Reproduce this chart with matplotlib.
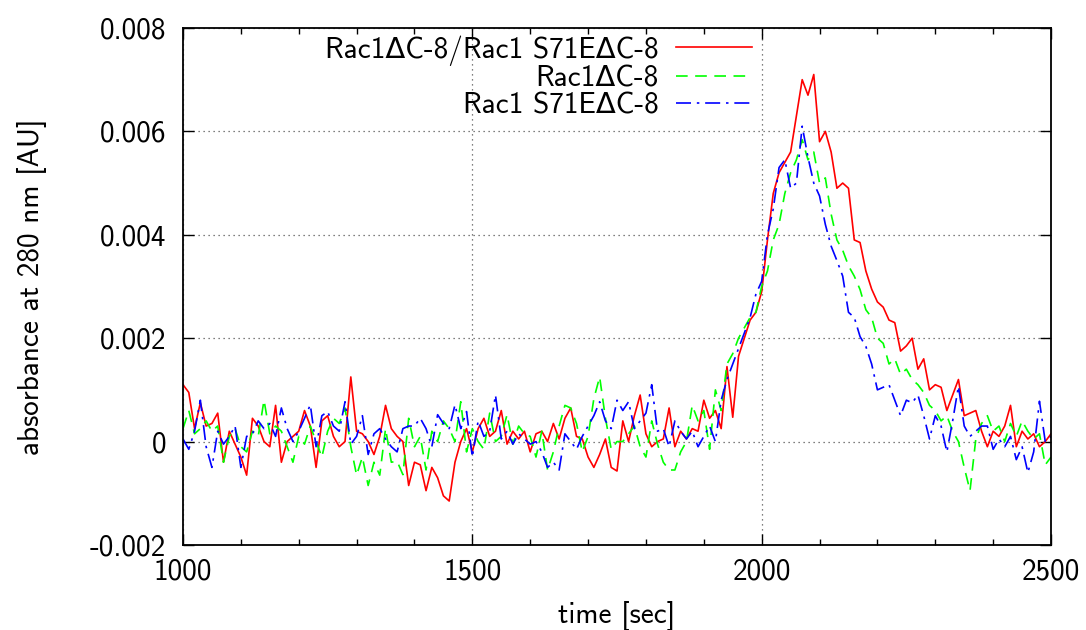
import numpy as np
import matplotlib
matplotlib.use('Agg')
import matplotlib.pyplot as plt
from matplotlib.ticker import MultipleLocator, FormatStrFormatter

plt.rcParams['font.family'] = ['cmss10', 'DejaVu Sans']
plt.rcParams['axes.unicode_minus'] = False
plt.rcParams['mathtext.fontset'] = 'cm'

# time axis [sec], one reading every 10 sec
time = np.arange(1000, 2501, 10)

# absorbance at 280 nm, in units of 0.001 AU
red_mau = [1.1, 0.95, 0.25, 0.75, 0.3, 0.35, 0.55, -0.4, 0.2, -0.05,
           -0.3, -0.65, 0.45, 0.3, 0.0, -0.1, 0.7, -0.4, 0.0, 0.1,
           0.2, 0.6, 0.3, -0.5, 0.4, 0.5, 0.1, -0.1, 0.0, 1.25,
           0.2, 0.15, 0.0, -0.25, 0.1, 0.7, 0.25, 0.1, 0.0, -0.85,
           -0.4, -0.45, -0.95, -0.5, -0.7, -1.05, -1.15, -0.4, 0.0, 0.25,
           -0.2, 0.25, 0.45, 0.1, 0.2, 0.6, -0.05, 0.2, 0.05, 0.2,
           -0.2, 0.15, 0.2, 0.0, 0.35, 0.05, 0.45, 0.65, 0.1, 0.05,
           -0.3, -0.5, -0.25, 0.05, -0.5, -0.57, 0.4, 0.0, 0.5, 0.9,
           0.15, -0.1, 0.0, 0.05, 0.65, -0.1, 0.2, 0.05, 0.25, 0.2,
           0.8, 0.45, 0.6, 0.25, 1.45, 0.47, 1.65, 2.0, 2.35, 2.5,
           2.9, 3.9, 4.8, 5.2, 5.4, 5.6, 6.3, 7.0, 6.7, 7.1,
           5.8, 6.0, 5.6, 4.9, 5.0, 4.9, 3.9, 3.85, 3.3, 2.95,
           2.7, 2.6, 2.35, 2.3, 1.75, 1.85, 2.0, 1.4, 1.6, 1.0,
           1.1, 1.05, 0.6, 0.9, 1.2, 0.5, 0.55, 0.6, 0.2, -0.1,
           0.2, 0.1, 0.3, 0.7, -0.1, 0.2, 0.05, 0.15, -0.1, 0.0,
           0.15]

green_mau = [0.25, 0.6, 0.15, 0.25, 0.4, 0.2, 0.3, -0.4, 0.1, 0.25,
             -0.1, -0.2, 0.2, 0.1, 0.8, 0.15, 0.3, 0.2, -0.1, -0.4,
             0.1, -0.05, 0.3, 0.0, -0.3, 0.2, 0.45, 0.35, 0.65, -0.1,
             -0.65, -0.3, -0.85, -0.4, -0.65, 0.25, -0.4, -0.38, -0.64, 0.45,
             -0.1, 0.1, -0.55, 0.2, 0.0, 0.4, 0.25, 0.0, 0.77, -0.2,
             0.25, 0.0, -0.15, 0.55, 0.0, 0.1, 0.52, -0.05, 0.3, 0.15,
             0.1, -0.3, 0.2, -0.55, -0.2, 0.3, 0.7, 0.65, 0.35, -0.2,
             0.1, 0.83, 1.25, 0.45, -0.15, 0.0, 0.0, 0.15, 0.3, -0.1,
             -0.3, 0.4, -0.05, -0.4, -0.55, -0.55, -0.2, 0.0, 0.7, 0.4,
             0.6, -0.15, 1.0, 0.6, 1.5, 1.7, 2.0, 2.2, 2.4, 2.5,
             3.0, 3.3, 3.9, 4.2, 4.8, 5.2, 5.45, 5.84, 5.45, 5.6,
             5.0, 5.1, 4.4, 3.9, 3.7, 3.4, 3.2, 2.94, 2.55, 2.4,
             2.0, 1.9, 1.5, 1.6, 1.3, 1.4, 1.2, 1.1, 0.95, 0.7,
             0.6, 0.4, 0.5, 0.2, 0.0, -0.5, -0.95, 0.05, 0.35, 0.5,
             0.2, 0.3, 0.0, 0.35, 0.1, 0.4, 0.2, 0.05, 0.15, -0.45,
             -0.3]

blue_mau = [0.05, -0.15, 0.2, 0.8, -0.1, -0.5, 0.2, -0.05, 0.1, 0.3,
            -0.5, 0.1, 0.15, 0.4, 0.25, 0.35, 0.1, 0.65, 0.25, 0.0,
            0.2, 0.45, 0.71, -0.1, 0.5, 0.58, 0.3, 0.2, 0.77, -0.05,
            0.1, 0.5, -0.25, 0.15, 0.25, 0.05, -0.1, -0.2, 0.25, 0.3,
            0.3, 0.45, 0.25, -0.1, 0.52, 0.35, 0.25, 0.71, 0.25, 0.58,
            -0.3, 0.4, 0.1, 0.2, 0.9, 0.05, 0.2, -0.05, 0.15, 0.05,
            -0.05, 0.0, -0.2, -0.5, -0.4, -0.55, 0.15, 0.0, -0.15, 0.1,
            0.3, 0.5, 0.77, 0.4, 0.25, 0.8, 0.6, 0.77, 0.25, 0.4,
            0.55, 1.1, 0.2, 0.25, -0.1, 0.4, 0.2, 0.05, 0.2, -0.1,
            0.1, 0.3, 0.0, 0.8, 1.2, 1.5, 1.8, 2.1, 2.4, 2.85,
            3.1, 4.0, 4.5, 5.3, 5.45, 4.9, 5.0, 6.1, 5.5, 5.0,
            4.75, 4.2, 3.78, 3.5, 3.2, 2.5, 2.4, 2.03, 1.84, 1.5,
            1.0, 1.05, 1.1, 0.8, 0.5, 0.8, 0.75, 0.9, 0.5, 0.05,
            0.5, 0.3, -0.2, 0.4, 1.07, 0.3, 0.1, 0.2, 0.3, 0.3,
            -0.15, 0.05, -0.1, 0.1, -0.35, -0.1, -0.6, -0.2, 0.78, 0.0,
            0.1]

labels = ['Rac1\u0394C-8/Rac1 S71E\u0394C-8', 'Rac1\u0394C-8', 'Rac1 S71E\u0394C-8']

fig = plt.figure(figsize=(10.86, 6.3), dpi=100)
ax = fig.add_axes([0.1685, 0.135, 0.7993, 0.8206])

ax.plot(time, np.array(red_mau) * 1e-3, color='#ff0000', lw=1.2, label=labels[0])
ax.plot(time, np.array(green_mau) * 1e-3, color='#00ff00', lw=1.2,
        dashes=(7, 4.5), label=labels[1])
ax.plot(time, np.array(blue_mau) * 1e-3, color='#0000ff', lw=1.2,
        dashes=(9, 3.5, 1.5, 3.5), label=labels[2])

ax.set_xlim(1000, 2500)
ax.set_ylim(-0.002, 0.008)
ax.xaxis.set_major_locator(MultipleLocator(500))
ax.xaxis.set_minor_locator(MultipleLocator(100))
ax.yaxis.set_major_locator(MultipleLocator(0.002))
ax.yaxis.set_major_formatter(FormatStrFormatter('%g'))
ax.tick_params(which='both', direction='in', top=True, right=True, labelsize=21)
ax.tick_params(which='major', length=8, width=1)
ax.tick_params(which='minor', length=4, width=1)
ax.tick_params(axis='x', pad=10)
ax.tick_params(axis='y', pad=12)
for s in ax.spines.values():
    s.set_linewidth(1.3)
ax.grid(True, which='major', color='#555555', linestyle=(0, (1, 3)), linewidth=0.9)

ax.set_xlabel('time [sec]', fontsize=21, labelpad=11)
ax.set_ylabel('absorbance at 280 nm [AU]', fontsize=21, labelpad=31)

leg = ax.legend(loc='upper right', bbox_to_anchor=(752 / 1086, 1 - 35 / 630),
                bbox_transform=fig.transFigure, frameon=False, markerfirst=False,
                fontsize=21, handlelength=2.6, handletextpad=0.6,
                labelspacing=0.0, borderaxespad=0, borderpad=0)
for t in leg.get_texts():
    t.set_ha('right')

fig.savefig('out.png', dpi=100)
